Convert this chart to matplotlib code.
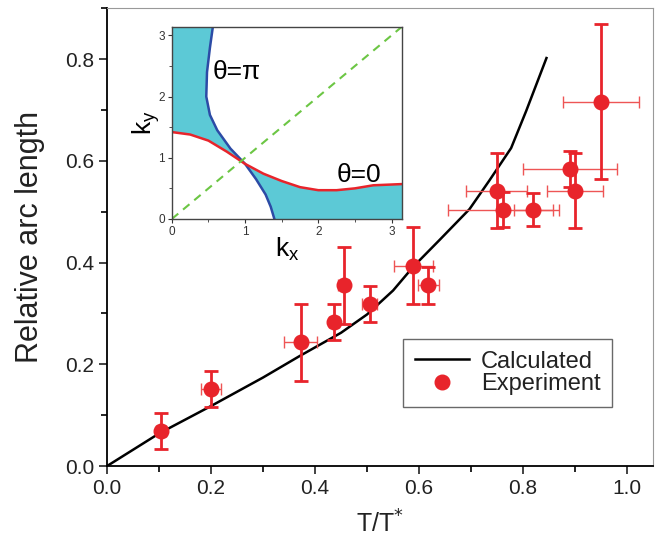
import numpy as np
import matplotlib
matplotlib.use('Agg')
import matplotlib.pyplot as plt
from matplotlib.colors import ListedColormap
from matplotlib.ticker import MultipleLocator

plt.rcParams['font.family'] = ['Liberation Sans', 'DejaVu Sans']

# experiment points
t_exp = [0.104, 0.200, 0.372, 0.436, 0.455, 0.505, 0.589, 0.618, 0.749, 0.762, 0.820, 0.890, 0.900, 0.950]
arc_exp = [0.069, 0.151, 0.243, 0.283, 0.355, 0.318, 0.394, 0.355, 0.541, 0.504, 0.504, 0.584, 0.541, 0.716]
arc_err = [0.035, 0.035, 0.075, 0.035, 0.075, 0.035, 0.075, 0.036, 0.074, 0.035, 0.033, 0.035, 0.074, 0.152]
t_err = [0.010, 0.020, 0.032, 0.010, 0.010, 0.015, 0.037, 0.020, 0.058, 0.107, 0.038, 0.090, 0.054, 0.073]

# calculated curve
t_calc = [0.0, 0.10, 0.20, 0.30, 0.37, 0.45, 0.50, 0.55, 0.589, 0.64, 0.697, 0.735, 0.777, 0.806, 0.845]
arc_calc = [0.0, 0.064, 0.118, 0.174, 0.216, 0.262, 0.298, 0.345, 0.392, 0.445, 0.505, 0.561, 0.625, 0.698, 0.802]

# inset: theta = pi contour (kx as function of ky)
ky_pi = [0.0, 0.2, 0.4, 0.65, 0.9, 1.15, 1.45, 1.7, 2.0, 2.4, 2.8, 3.1416]
kx_pi = [1.40, 1.35, 1.28, 1.15, 1.0, 0.8, 0.62, 0.52, 0.47, 0.48, 0.52, 0.56]
# inset: theta = 0 contour (ky as function of kx)
kx_0 = [0.0, 0.25, 0.5, 0.75, 1.0, 1.25, 1.5, 1.75, 2.0, 2.25, 2.5, 2.75, 3.1416]
ky_0 = [1.42, 1.38, 1.28, 1.10, 0.90, 0.74, 0.62, 0.52, 0.47, 0.47, 0.50, 0.55, 0.57]

red = '#E8242B'

fig = plt.figure(figsize=(6.61, 5.46), dpi=100)
ax = fig.add_axes([0.162, 0.1465, 0.826, 0.8385])

ax.plot(t_calc, arc_calc, color='black', lw=1.8, label='Calculated')
ax.errorbar(t_exp, arc_exp, xerr=t_err, fmt='none', ecolor='#EE5555', elinewidth=1.0, capsize=4)
ax.errorbar(t_exp, arc_exp, yerr=arc_err, fmt='none', ecolor=red, elinewidth=2.0, capsize=5, capthick=2)
ax.plot(t_exp, arc_exp, 'o', color=red, ms=10.5, ls='none', label='Experiment')

ax.set_xlim(0, 1.05)
ax.set_ylim(0, 0.9)
ax.xaxis.set_major_locator(MultipleLocator(0.2))
ax.xaxis.set_minor_locator(MultipleLocator(0.1))
ax.yaxis.set_major_locator(MultipleLocator(0.2))
ax.yaxis.set_minor_locator(MultipleLocator(0.1))
ax.tick_params(which='major', direction='out', length=6, width=1.2, labelsize=15, colors='#222222')
ax.tick_params(which='minor', direction='out', length=4, width=1.2)
for s in ['left', 'bottom']:
    ax.spines[s].set_linewidth(1.3)
for s in ['top', 'right']:
    ax.spines[s].set_color('#999999')
ax.set_xlabel('T/T$^{*}$', fontsize=18, labelpad=9, color='#222222')
ax.set_ylabel('Relative arc length', fontsize=22, labelpad=14, color='#222222')

leg = ax.legend(loc='lower right', bbox_to_anchor=(0.925, 0.129), fontsize=17,
                fancybox=False, edgecolor='#444444', handlelength=2.3,
                borderpad=0.5, labelspacing=0.02, handletextpad=0.5,
                borderaxespad=0)
leg.get_frame().set_linewidth(1.0)
for txt in leg.get_texts():
    txt.set_color('#222222')

# inset
axi = fig.add_axes([0.260, 0.599, 0.348, 0.352])
n = 700
gx = np.linspace(0, np.pi, n)
gy = np.linspace(0, np.pi, n)
KX, KY = np.meshgrid(gx, gy)
left_of_pi = KX < np.interp(KY, ky_pi, kx_pi)
below_0 = KY < np.interp(KX, kx_0, ky_0)
mask = np.logical_xor(left_of_pi, below_0).astype(float)
axi.imshow(mask, extent=[0, np.pi, 0, np.pi], origin='lower', aspect='auto',
           cmap=ListedColormap(['white', '#5CC9D6']), interpolation='nearest')
axi.plot(kx_pi, ky_pi, color='#2C4BA6', lw=1.8)
axi.plot(kx_0, ky_0, color='#E8242B', lw=1.8)
axi.plot([0, np.pi], [0, np.pi], ls='--', color='#6CC644', lw=1.5, dashes=(4, 3))
axi.set_xlim(0, np.pi)
axi.set_ylim(0, np.pi)
axi.xaxis.set_major_locator(MultipleLocator(1))
axi.yaxis.set_major_locator(MultipleLocator(1))
axi.xaxis.set_minor_locator(MultipleLocator(0.5))
axi.yaxis.set_minor_locator(MultipleLocator(0.5))
axi.tick_params(which='major', direction='out', length=3, labelsize=8.5, pad=2, colors='#333333')
axi.tick_params(which='minor', direction='out', length=2, colors='#333333')
for s in axi.spines.values():
    s.set_color('#444444')
    s.set_linewidth(1.0)
axi.set_xlabel('k$_\\mathregular{x}$', fontsize=19, labelpad=-2)
axi.set_ylabel('k$_\\mathregular{y}$', fontsize=19, labelpad=-3)
axi.text(0.88, 2.4, '\u03b8=\u03c0', fontsize=19, ha='center', va='center')
axi.text(2.56, 0.72, '\u03b8=0', fontsize=19, ha='center', va='center')

fig.savefig('out.png', dpi=100)
